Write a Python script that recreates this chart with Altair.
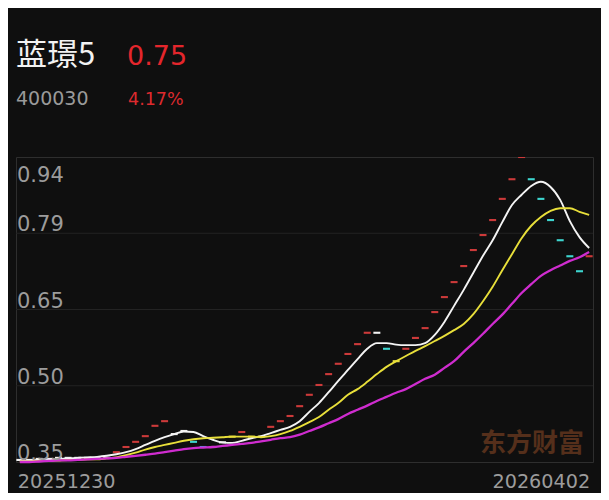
import altair as alt
import pandas as pd

# ---- header texts ----
name = "蓝璟5"
price = "0.75"
code = "400030"
change = "4.17%"
watermark = "东方财富"

# ---- daily closes (one dash per bar) ----
closes = [0.354, 0.354, 0.356, 0.356, 0.358, 0.358, 0.358, 0.358, 0.358, 0.358,
          0.369, 0.379, 0.389, 0.400, 0.420, 0.429, 0.404, 0.410, 0.389, 0.379,
          0.379, 0.388, 0.399, 0.408, 0.399, 0.399, 0.418, 0.429, 0.439, 0.458,
          0.480, 0.499, 0.520, 0.540, 0.559, 0.578, 0.600, 0.600, 0.569, 0.545,
          0.569, 0.590, 0.609, 0.640, 0.669, 0.698, 0.729, 0.760, 0.789, 0.818,
          0.859, 0.897, 0.940, 0.897, 0.859, 0.818, 0.779, 0.748, 0.719, 0.748]
dash_kind = ["w"] * 10 + ["r"] * 6 + ["w", "w", "c", "b", "p", "w", "y", "r", "y", "y"] + \
            ["r"] * 11 + ["w", "c", "y"] + ["r"] * 13 + ["c"] * 6 + ["r"]

# ---- moving averages ----
ma5 = [0.352, 0.353, 0.354, 0.355, 0.356, 0.357, 0.358, 0.359, 0.360, 0.362,
       0.365, 0.369, 0.375, 0.383, 0.391, 0.398, 0.404, 0.409, 0.408, 0.400,
       0.393, 0.388, 0.387, 0.391, 0.396, 0.400, 0.406, 0.412, 0.418, 0.429,
       0.447, 0.464, 0.485, 0.507, 0.528, 0.549, 0.569, 0.580, 0.580, 0.577,
       0.576, 0.576, 0.580, 0.596, 0.621, 0.652, 0.683, 0.716, 0.749, 0.779,
       0.814, 0.847, 0.867, 0.884, 0.892, 0.882, 0.857, 0.816, 0.785, 0.764]
ma10 = [0.351, 0.351, 0.352, 0.352, 0.353, 0.354, 0.354, 0.355, 0.355, 0.357,
        0.359, 0.363, 0.368, 0.374, 0.379, 0.383, 0.387, 0.391, 0.394, 0.396,
        0.397, 0.398, 0.399, 0.399, 0.399, 0.398, 0.400, 0.404, 0.410, 0.418,
        0.427, 0.437, 0.451, 0.464, 0.480, 0.491, 0.505, 0.520, 0.534, 0.545,
        0.555, 0.565, 0.574, 0.584, 0.594, 0.605, 0.617, 0.636, 0.661, 0.689,
        0.721, 0.752, 0.783, 0.807, 0.824, 0.836, 0.841, 0.841, 0.834, 0.828]
ma20 = [0.350, 0.350, 0.351, 0.352, 0.353, 0.353, 0.354, 0.355, 0.356, 0.357,
        0.358, 0.360, 0.362, 0.364, 0.366, 0.369, 0.372, 0.375, 0.377, 0.378,
        0.379, 0.381, 0.383, 0.385, 0.387, 0.390, 0.393, 0.396, 0.398, 0.403,
        0.410, 0.417, 0.425, 0.433, 0.443, 0.451, 0.459, 0.468, 0.476, 0.484,
        0.491, 0.501, 0.511, 0.519, 0.532, 0.545, 0.563, 0.580, 0.598, 0.617,
        0.635, 0.656, 0.677, 0.694, 0.710, 0.721, 0.730, 0.739, 0.746, 0.756]

# ---- axis values ----
y_domain = [0.35, 0.94]
y_ticks = [0.94, 0.7925, 0.645, 0.4975, 0.35]
y_tick_labels = ["0.94", "0.79", "0.65", "0.50", "0.35"]
grid_vals = [0.7925, 0.645, 0.4975]
x_label_pos = [0, len(closes) - 1]
x_labels = ["20251230", "20260402"]

kind_domain = ["r", "c", "w", "b", "p", "y"]
kind_range = ["#cc3a3a", "#3dd5cf", "#f2f2f2", "#3aa8e6", "#e2a4e6", "#e8dc3c"]

n = len(closes)
df = pd.DataFrame({"i": list(range(n)), "close": closes, "kind": dash_kind,
                   "ma5": ma5, "ma10": ma10, "ma20": ma20})
df_y = pd.DataFrame({"v": y_ticks, "lab": y_tick_labels})
df_g = pd.DataFrame({"v": grid_vals})
df_x = pd.DataFrame({"i": x_label_pos, "lab": x_labels})

W, H = 577, 305
xs = alt.Scale(domain=[-0.4, n - 1 + 0.4], nice=False, zero=False)
ys = alt.Scale(domain=y_domain, nice=False, zero=False)
LABEL_FONT = "DejaVu Sans"
CJK = "Noto Sans CJK SC"

grid = alt.Chart(df_g).mark_rule(color="#232323", strokeWidth=1).encode(
    y=alt.Y("v:Q", scale=ys, axis=None))

wm = alt.Chart(pd.DataFrame({"t": [watermark]})).mark_text(
    font=CJK, fontSize=26, fontWeight="bold", color="#552f1b", align="left",
    baseline="alphabetic").encode(text="t:N", x=alt.value(464), y=alt.value(295))

dashes = alt.Chart(df).mark_point(
    shape="M-1,-0.3H1V0.3H-1Z", size=49, filled=True, opacity=1, strokeWidth=0, clip=True
).encode(
    x=alt.X("i:Q", scale=xs, axis=None),
    y=alt.Y("close:Q", scale=ys, axis=None),
    color=alt.Color("kind:N", scale=alt.Scale(domain=kind_domain, range=kind_range), legend=None),
)

def ma_line(field, color, width):
    return alt.Chart(df).mark_line(color=color, strokeWidth=width, interpolate="monotone").encode(
        x=alt.X("i:Q", scale=xs, axis=None),
        y=alt.Y(f"{field}:Q", scale=ys, axis=None))

l5 = ma_line("ma5", "#f4f4f4", 1.9)
l10 = ma_line("ma10", "#e8df3a", 1.9)
l20 = ma_line("ma20", "#cf2ccf", 2.3)

ylab_top = alt.Chart(df_y).transform_filter("datum.v >= 0.94").mark_text(
    font=LABEL_FONT, fontSize=21, color="#9c9c9c", align="left", baseline="alphabetic", dx=1, dy=25
).encode(x=alt.value(0), y=alt.Y("v:Q", scale=ys, axis=None), text="lab:N")
ylab_rest = alt.Chart(df_y).transform_filter("datum.v < 0.94").mark_text(
    font=LABEL_FONT, fontSize=21, color="#9c9c9c", align="left", baseline="alphabetic", dx=1, dy=-2
).encode(x=alt.value(0), y=alt.Y("v:Q", scale=ys, axis=None), text="lab:N")

xlab_l = alt.Chart(df_x).transform_filter("datum.i == 0").mark_text(
    font=LABEL_FONT, fontSize=19.2, color="#9c9c9c", align="left", baseline="alphabetic", dx=-2
).encode(x=alt.X("i:Q", scale=xs, axis=None), y=alt.value(H + 26), text="lab:N")
xlab_r = alt.Chart(df_x).transform_filter("datum.i > 0").mark_text(
    font=LABEL_FONT, fontSize=19.2, color="#9c9c9c", align="right", baseline="alphabetic", dx=1
).encode(x=alt.X("i:Q", scale=xs, axis=None), y=alt.value(H + 26), text="lab:N")

def header(txt, xpos, ypos, size, color, font):
    return alt.Chart(pd.DataFrame({"t": [txt]})).mark_text(
        font=font, fontSize=size, color=color, align="left", baseline="alphabetic"
    ).encode(text="t:N", x=alt.value(xpos), y=alt.value(ypos))

h1 = header(name, 0, -92, 31, "#f2f2f2", CJK)
h2 = header(price, 111, -92, 27, "#e4262c", LABEL_FONT)
h3 = header(code, 0, -52, 19, "#9a9a9a", LABEL_FONT)
h4 = header(change, 112, -52, 17.5, "#dd2a2e", LABEL_FONT)

chart = alt.layer(
    grid, wm, dashes, l5, l10, l20, ylab_top, ylab_rest, xlab_l, xlab_r, h1, h2, h3, h4
).properties(
    width=W, height=H,
    autosize=alt.AutoSizeParams(type="none"),
    padding={"left": 8, "top": 149, "right": 8, "bottom": 31},
    background="#0f0f0f",
).configure_view(stroke="#2e2e2e", strokeWidth=1)

chart.save("out.html", embed_options={"renderer": "svg", "actions": False})
